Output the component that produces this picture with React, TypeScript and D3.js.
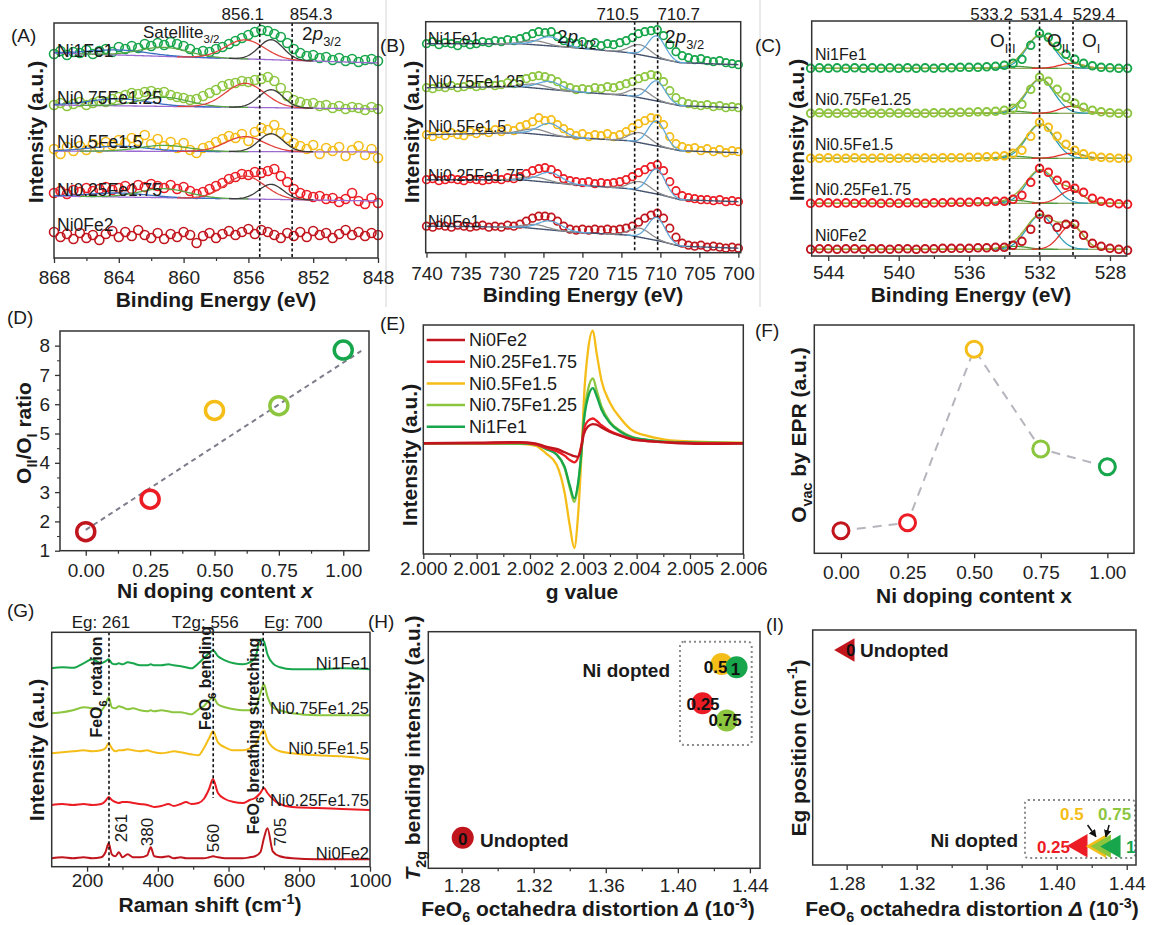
import React, { useEffect, useRef } from "react";
import * as d3 from "d3";

const FONT = "'Liberation Sans', Arial, Helvetica, sans-serif";

// samples, in doping order x = 0 ... 1
const dopingX = [0, 0.25, 0.5, 0.75, 1.0];
const sampleNames = ["Ni0Fe2", "Ni0.25Fe1.75", "Ni0.5Fe1.5", "Ni0.75Fe1.25", "Ni1Fe1"];
const feNames = ["Ni0Fe1", "Ni0.25Fe1.75", "Ni0.5Fe1.5", "Ni0.75Fe1.25", "Ni1Fe1"];
const sampleColors = ["#c1151d", "#ec1c24", "#f5bd18", "#8cc63f", "#17a64b"];

// (A) Ni 2p XPS
const niEnergy = [
  868.0, 867.6, 867.2, 866.8, 866.4, 866.0, 865.6, 865.2, 864.8, 864.4,
  864.0, 863.6, 863.2, 862.8, 862.4, 862.0, 861.6, 861.2, 860.8, 860.4,
  860.0, 859.6, 859.2, 858.8, 858.4, 858.0, 857.6, 857.2, 856.8, 856.4,
  856.0, 855.6, 855.2, 854.8, 854.4, 854.0, 853.6, 853.2, 852.8, 852.4,
  852.0, 851.6, 851.2, 850.8, 850.4, 850.0, 849.6, 849.2, 848.8, 848.4, 848.0,
];
const niOffset = [23, 58, 106, 150, 197];
const niCounts = [
  [3, -2, 1, -4, 2, -3, 0, -5, 1, 4, -2, 3, -1, 5, 0, -3, 2, -4, 1, -2, 3, 0, -8, -1, 2, -3, 1, 4, 0, 3, 6, 1, 5, 3, 0, -3, 2, -1, 3, -2, 4, 0, 2, -3, 1, 5, 0, 3, -1, 2, 0],
  [7, 9, 6, 10, 8, 12, 9, 11, 13, 10, 12, 14, 11, 15, 13, 16, 14, 12, 15, 11, 13, 9, 6, 8, 11, 14, 17, 21, 23, 26, 25, 28, 27, 29, 31, 24, 18, 11, 7, 5, 3, 4, 1, 2, -2, 1, 7, -1, -4, 2, -3],
  [3, -2, 5, 1, 6, 2, 8, 4, 10, 7, 12, 9, 14, 11, 17, 8, 13, 6, 10, 4, 9, 2, -1, 4, 6, 10, 13, 16, 14, 18, 11, 20, 24, 22, 27, 19, 14, 9, 6, 3, 7, -2, 4, 1, 5, -4, 2, 6, -3, 3, -6],
  [3, 5, 2, 4, 6, 3, 5, 7, 6, 9, 11, 13, 15, 14, 16, 17, 15, 16, 13, 11, 10, 8, 9, 12, 15, 18, 22, 24, 25, 27, 26, 28, 29, 31, 27, 20, 12, 8, 6, 4, 5, 2, 3, 0, 2, -1, 1, 0, -2, 1, -1],
  [7, 10, 6, 9, 8, 11, 7, 10, 12, 9, 14, 12, 15, 13, 17, 15, 18, 16, 19, 17, 15, 12, 8, 10, 9, 12, 14, 17, 20, 23, 26, 29, 31, 30, 27, 24, 18, 12, 8, 5, 6, 3, 4, 1, 3, 0, 2, -1, 1, 2, 0],
];
const niBaseLeft = [0, 4, 1, 3, 8];
const niBaseRight = [0, -1, 0, -1, -2];
const niPeakCenter = [864.0, 861.2, 856.2, 854.6];
const niPeakWidth = [1.8, 1.5, 1.2, 0.75];
const niPeakHeight = [null, [4, 9, 23, 15], [5, 6, 15, 18], [7, 9, 24, 18], [5, 9, 19, 20]];
const niMarks = [855.3, 853.3];
const niMarkLabels = ["856.1", "854.3"];
const niTicks = [868, 864, 860, 856, 852, 848];
const niMinor = [866, 862, 858, 854, 850];

// (B) Fe 2p XPS
const feEnergy = [
  740.0, 739.2, 738.4, 737.6, 736.8, 736.0, 735.2, 734.4, 733.6, 732.8,
  732.0, 731.2, 730.4, 729.6, 728.8, 728.0, 727.2, 726.4, 725.6, 724.8,
  724.0, 723.2, 722.4, 721.6, 720.8, 720.0, 719.2, 718.4, 717.6, 716.8,
  716.0, 715.2, 714.4, 713.6, 712.8, 712.0, 711.2, 710.4, 709.6, 708.8,
  708.0, 707.2, 706.4, 705.6, 704.8, 704.0, 703.2, 702.4, 701.6, 700.8, 700.0,
];
const feOffset = [4.5, 51, 100, 145, 188];
const feCounts = [
  [22, 21, 23, 22, 21, 23, 22, 21, 22, 23, 21, 22, 21, 23, 22, 24, 27, 30, 32, 32, 31, 27, 22, 19, 18, 19, 18, 19, 18, 19, 18, 19, 20, 22, 26, 30, 33, 35, 30, 20, 11, 5, 3, 2, 3, 1, 2, 1, 0, 1, 0],
  [22, 23, 21, 22, 23, 22, 21, 23, 22, 21, 22, 23, 22, 24, 23, 25, 28, 31, 33, 34, 32, 28, 23, 21, 20, 19, 20, 18, 19, 18, 19, 20, 22, 25, 29, 32, 35, 37, 31, 20, 11, 6, 4, 3, 2, 2, 1, 2, 0, 1, 0],
  [18, 16, 19, 17, 20, 18, 17, 21, 19, 22, 20, 23, 21, 24, 22, 26, 28, 31, 35, 32, 33, 28, 24, 20, 17, 19, 16, 18, 17, 19, 16, 18, 21, 25, 29, 32, 35, 34, 28, 16, 9, 6, 4, 5, 2, 4, 1, 3, 0, 2, 1],
  [20, 19, 21, 20, 22, 20, 21, 23, 21, 22, 24, 22, 23, 25, 24, 27, 29, 31, 32, 31, 29, 26, 22, 20, 18, 19, 18, 20, 19, 21, 20, 22, 24, 26, 29, 31, 33, 32, 26, 17, 10, 6, 4, 3, 2, 3, 1, 2, 0, 1, 0],
  [21, 23, 20, 22, 21, 19, 22, 20, 21, 23, 22, 24, 23, 25, 24, 26, 28, 31, 33, 32, 33, 28, 24, 22, 21, 23, 20, 22, 19, 21, 20, 22, 24, 27, 31, 33, 34, 35, 29, 20, 13, 9, 7, 5, 6, 4, 3, 4, 2, 1, 0],
];
const feBaseKnots = [740, 728, 721, 714, 710, 707.5, 700];
const feBaseLevels = [
  [22, 21, 16, 13, 7, 2, 0],
  [22, 22, 17, 13, 7, 2, 0],
  [18, 20, 15, 12, 6, 2, 0],
  [20, 21, 16, 12, 6, 2, 0],
  [21, 21, 17, 12, 6, 2, 0],
];
const fePeakCenter = [726.0, 724.2, 712.6, 710.5];
const fePeakWidth = [1.5, 1.5, 1.3, 1.1];
const fePeakHeight = [
  [4, 9, 9, 23],
  [4, 10, 9, 25],
  [5, 12, 10, 25],
  [4, 8, 9, 20],
  [4, 9, 10, 22],
];
const feMarks = [713.3, 710.35];
const feMarkLabels = ["710.5", "710.7"];
const feTicks = [740, 735, 730, 725, 720, 715, 710, 705, 700];

// (C) O 1s XPS
const oEnergy = [
  545, 544.5, 544, 543.5, 543, 542.5, 542, 541.5, 541, 540.5, 540, 539.5, 539,
  538.5, 538, 537.5, 537, 536.5, 536, 535.5, 535, 534.5, 534, 533.5, 533, 532.5,
  532, 531.5, 531, 530.5, 530, 529.5, 529, 528.5, 528, 527.5, 527,
];
const oOffset = [6.7, 52.7, 97.7, 142.7, 187.7];
const oCounts = [
  [0, 0.5, 0.5, 0, 0.5, 0.5, 0, 0.5, 0.5, 0, 0.5, 0.5, 0, 0.5, 0.5, 1, 1, 1, 1, 1.5, 1.5, 2, 2, 4, 8, 20, 35, 30, 22, 25, 25, 14, 6, 3, 1, 0, -1],
  [0, 0.5, 0.5, 0, 0.5, 0, 0.5, 0.5, 0, 0.5, 0, 0.5, 0.5, 0, 0.5, 0.5, 1, 1, 1, 1.5, 1.5, 2, 2, 4, 8, 21, 35, 31, 23, 18, 15, 11, 5, 2, 0.5, -0.5, -1],
  [0, 0, 0.5, 0, 0, 0.5, 0, 0, 0.5, 0, 0, 0.5, 0, 0.5, 0, 0.5, 0.5, 0.5, 1, 1, 1.5, 2, 2.5, 5, 8, 22, 36, 31, 22, 14, 8, 4.5, 2, 1, 0.5, 0, 0],
  [0, 0.5, 0, 0, 0.5, 0, 0.5, 0, 0, 0.5, 0, 0.5, 0, 0, 0.5, 0.5, 0.5, 1, 1, 1.5, 1.5, 2, 3, 5, 9, 24, 36, 32, 24, 16, 10, 6, 3, 1.5, 0.5, 0, 0],
  [0, 0.5, 0, 0.5, 0, 0.5, 0, 0.5, 0, 0.5, 0, 0.5, 0, 0.5, 0, 0.5, 0.5, 1, 1, 1, 1.5, 2, 3, 5, 9, 23, 35, 31, 22, 14, 9, 5, 2.5, 1, 0.5, 0, 0],
];
const oPeakCenter = [533.4, 531.95, 530.2];
const oPeakWidth = [0.7, 0.78, 0.65];
const oPeakHeight = [
  [3, 34, 24],
  [3, 33, 13],
  [2, 34, 5],
  [2, 34, 7],
  [2, 33, 5],
];
const oMarks = [533.7, 532.0, 530.1];
const oMarkLabels = ["533.2", "531.4", "529.4"];
const oTicks = [544, 540, 536, 532, 528];
const oMinor = [542, 538, 534, 530];

// (D) OII/OI ratio
const ratioOII = [1.65, 2.76, 5.79, 5.95, 7.85];
const ratioFit = [1.71, 5.71]; // intercept, slope
const ratioFitSpan = [0, 1.07];

// (E) EPR
const gValue = [
  2.0, 2.001, 2.0018, 2.0021, 2.0023, 2.0025, 2.00265, 2.00275, 2.00283, 2.0029,
  2.00297, 2.00301, 2.00309, 2.00318, 2.00325, 2.00334, 2.0035, 2.0037, 2.0039,
  2.0042, 2.0045, 2.0048, 2.0054, 2.006,
];
const eprSignal = [
  [0, 0.005, 0.01, 0, -0.03, -0.05, -0.08, -0.1, -0.115, -0.12, -0.02, 0.08, 0.15, 0.17, 0.165, 0.14, 0.1, 0.065, 0.035, 0.02, 0.01, 0, -0.005, 0],
  [0, 0, 0.005, -0.01, -0.04, -0.07, -0.11, -0.15, -0.17, -0.13, 0.0, 0.12, 0.2, 0.22, 0.2, 0.16, 0.11, 0.07, 0.04, 0.02, 0.01, 0.005, 0, 0],
  [0, 0, -0.005, -0.02, -0.09, -0.19, -0.44, -0.74, -0.93, -0.65, -0.06, 0.38, 0.83, 1.0, 0.8, 0.56, 0.36, 0.22, 0.12, 0.065, 0.035, 0.02, 0.01, 0.005],
  [0, 0, 0, -0.01, -0.05, -0.1, -0.22, -0.4, -0.52, -0.38, -0.05, 0.22, 0.48, 0.577, 0.47, 0.33, 0.19, 0.11, 0.06, 0.03, 0.015, 0.01, 0, 0],
  [0, 0, 0, -0.01, -0.05, -0.1, -0.21, -0.38, -0.49, -0.36, -0.05, 0.19, 0.41, 0.49, 0.42, 0.3, 0.18, 0.1, 0.055, 0.03, 0.015, 0.01, 0.005, 0],
];
const gTicks = [2.0, 2.001, 2.002, 2.003, 2.004, 2.005, 2.006];
const gMinor = [2.0005, 2.0015, 2.0025, 2.0035, 2.0045, 2.0055];

// (F) Ovac by EPR
const ovacEpr = [0.099, 0.134, 0.894, 0.457, 0.379];
const dopingTicks = [0, 0.25, 0.5, 0.75, 1.0];

// (G) Raman
const ramanShift = [
  100, 130, 160, 190, 215, 240, 252, 261, 270, 280, 290, 300, 315, 330, 350, 370,
  380, 390, 410, 430, 445, 465, 480, 495, 515, 530, 545, 556, 570, 590, 615, 640,
  660, 675, 690, 700, 710, 725, 745, 780, 850, 920, 1000,
];
const ramanOffset = [8.4, 61.7, 113.4, 153.4, 198.4];
const ramanSignal = [
  [0, 1, 0, 1, 0, 1, 6, 15, 4, 2, 6, 1, 4, 1, 1, 3, 11, 2, 1, 2, 0, 1, 0, 0, 0, 0, 1, 2, 1, 0, 0, 0, 1, 2, 6, 20, 30, 7, 2, 0, -1, -1, -1],
  [0, 1, 0, 1, 0, 1, 4, 8, 5, 3, 2, 3, 3, 2, 1, 0, -1, -2, -1, 1, -1, 1, 3, 1, 2, 6, 16, 26, 12, 6, 3, 2, 5, 7, 12, 17, 12, 6, 1, -2, -3, -4, -5],
  [0, 1, 2, 3, 2, 3, 5, 10, 5, 2, 3, 3, 4, 3, 2, 3, 2, 1, 0, 1, 2, 1, 0, -1, -2, 5, 15, 22, 11, 6, 3, 3, 5, 8, 19, 23, 13, 6, 2, 0, -2, -3, -6],
  [0, 1, 3, 6, 5, 3, 9, 16, 6, 5, 7, 6, 4, 5, 3, 2, 3, 2, 3, 2, 1, 1, 0, -1, 4, 7, 13, 16, 9, 6, 4, 3, 3, 5, 20, 29, 17, 6, 3, 0, -2, -2, -2],
  [0, 1, 0.5, 5, 9, 5, 7, 9, 5, 4, 5, 4, 6, 5, 3, 3, 4, 3, 3, 4, 3, 2, 1, 0, 5, 10, 15, 18, 12, 8, 5, 4, 6, 10, 29, 27, 14, 5, 1, -1, -1, 0, -1],
];
const ramanModes = [262, 556.7, 698];
const ramanModeLabels = ["Eg: 261", "T2g: 556", "Eg: 700"];
const ramanModeStop = [0, 68.7, 76.7];
const ramanPeakNums = [261, 380, 560, 705];
const ramanTicks = [200, 400, 600, 800, 1000];
const ramanMinor = [300, 500, 700, 900];

// (H) and (I) vs FeO6 distortion
const distortion = [1.2806, 1.4137, 1.4243, 1.4271, 1.4326];
const t2gIntensity = [0.129, 0.698, 0.864, 0.625, 0.85];
const egPosition = [0.915, 0.082, 0.08, 0.08, 0.079];
const pointLabels = ["0", "0.25", "0.5", "0.75", "1"];
const distTicks = [1.28, 1.32, 1.36, 1.4, 1.44];
const distMinor = [1.3, 1.34, 1.38, 1.42];

const gauss = (e, c, h, w) => h * Math.exp(-((e - c) ** 2) / (2 * w * w));

function rich(t, parts, size) {
  let shift = 0;
  parts.forEach((p) => {
    const [s, k] = typeof p === "string" ? [p, ""] : p;
    const ts = t.append("tspan").text(s);
    let target = 0;
    if (k === "sub") {
      target = size * 0.3;
      ts.attr("font-size", size * 0.68);
    }
    if (k === "sup") {
      target = -size * 0.4;
      ts.attr("font-size", size * 0.68);
    }
    if (k === "i") ts.attr("font-style", "italic");
    if (target !== shift) {
      ts.attr("dy", target - shift);
      shift = target;
    }
  });
}

function txt(g, x, y, parts, size, o: any = {}) {
  const t = g
    .append("text")
    .attr("transform", `translate(${x},${y})` + (o.rotate ? ` rotate(${o.rotate})` : ""))
    .attr("font-family", FONT)
    .attr("font-size", size)
    .attr("text-anchor", o.anchor || "start")
    .attr("font-weight", o.weight || "normal")
    .attr("fill", o.fill || "#1a1a1a");
  rich(t, typeof parts === "string" ? [parts] : parts, size);
  return t;
}

const yTitle = (g, cx, cy, parts) =>
  txt(g, cx + 7.5, cy, parts, 21, { anchor: "middle", weight: "bold", rotate: -90 });
const xTitle = (g, cx, by, parts) => txt(g, cx, by, parts, 21, { anchor: "middle", weight: "bold" });

function frame(g, x, y) {
  const [x0, x1] = x.range();
  const [yb, yt] = y.range();
  g.append("rect")
    .attr("x", x0)
    .attr("y", yt)
    .attr("width", x1 - x0)
    .attr("height", yb - yt)
    .attr("fill", "none")
    .attr("stroke", "#333")
    .attr("stroke-width", 1.5);
}

function xAxis(g, x, y, ticks, fmt, pad, minor: number[] = []) {
  const yb = y.range()[0];
  const a = g
    .append("g")
    .attr("transform", `translate(0,${yb})`)
    .call(d3.axisBottom(x).tickValues(ticks).tickFormat(fmt).tickSize(5).tickSizeOuter(0).tickPadding(pad));
  a.select(".domain").remove();
  a.selectAll("line").attr("stroke", "#333").attr("stroke-width", 1.3);
  a.selectAll("text").attr("font-size", 19).attr("font-family", FONT).attr("fill", "#222");
  if (minor.length) {
    const m = g
      .append("g")
      .attr("transform", `translate(0,${yb})`)
      .call(d3.axisBottom(x).tickValues(minor).tickFormat(() => "").tickSize(3).tickSizeOuter(0));
    m.select(".domain").remove();
    m.selectAll("line").attr("stroke", "#333").attr("stroke-width", 1.2);
  }
}

function vDashed(g, x, y, v, from?, to?) {
  const [yb, yt] = y.range();
  g.append("line")
    .attr("x1", x(v))
    .attr("x2", x(v))
    .attr("y1", from ?? yt)
    .attr("y2", to ?? yb)
    .attr("stroke", "#111")
    .attr("stroke-width", 1.6)
    .attr("stroke-dasharray", "3,2.5");
}

function circles(g, xs, ys, x, y, r, color, sw) {
  g.append("g")
    .selectAll("circle")
    .data(ys)
    .join("circle")
    .attr("cx", (d, j) => x(xs[j]))
    .attr("cy", (d) => y(d))
    .attr("r", r)
    .attr("fill", "none")
    .attr("stroke", color)
    .attr("stroke-width", sw);
}

function path(g, pts, x, y, color, w, curve = d3.curveLinear) {
  const ln = d3
    .line()
    .x((d) => x(d[0]))
    .y((d) => y(d[1]))
    .curve(curve);
  return g
    .append("path")
    .attr("d", ln(pts))
    .attr("fill", "none")
    .attr("stroke", color)
    .attr("stroke-width", w);
}

function panelA(svg) {
  const g = svg.append("g");
  const x = d3.scaleLinear().domain([868, 848]).range([54, 378]);
  const y = d3.scaleLinear().domain([0, 235]).range([258, 23]);
  const fine = d3.range(868, 847.95, -0.1);
  const compColors = ["#3b70c2", "#5aa845", "#e2423d", "#3c3c3c"];

  niCounts.forEach((vals, i) => {
    circles(g, niEnergy, vals.map((v) => niOffset[i] + v), x, y, 4.5, sampleColors[i], 1.6);
  });
  niCounts.forEach((vals, i) => {
    const hs = niPeakHeight[i];
    if (!hs) return;
    const base = (e) => niOffset[i] + niBaseLeft[i] + ((niBaseRight[i] - niBaseLeft[i]) * (868 - e)) / 20;
    path(g, fine.map((e) => [e, base(e)]), x, y, "#9a6ad2", 1.3);
    niPeakCenter.forEach((c, k) => {
      const w = niPeakWidth[k];
      const pts = fine.filter((e) => Math.abs(e - c) < 3.5 * w).map((e) => [e, base(e) + gauss(e, c, hs[k], w)]);
      path(g, pts, x, y, compColors[k], 1.3);
    });
  });
  niMarks.forEach((m) => vDashed(g, x, y, m));
  niMarkLabels.forEach((s, k) => txt(g, x(niMarks[k]) + [-17, 19][k], 20, s, 17, { anchor: "middle" }));
  txt(g, 143, 38, ["Satellite", ["3/2", "sub"]], 17);
  txt(g, 302, 40, ["2", ["p", "i"], ["3/2", "sub"]], 19);
  sampleNames.forEach((s, i) => txt(g, 57, y(niOffset[i]) - 4, s, 17.5));
  frame(g, x, y);
  xAxis(g, x, y, niTicks, d3.format("d"), 8, niMinor);
  yTitle(g, 35, 132, "Intensity (a.u.)");
  xTitle(g, 216, 307, "Binding Energy (eV)");
  txt(g, 11, 42, "(A)", 19);
}

function panelB(svg) {
  const g = svg.append("g");
  const x = d3.scaleLinear().domain([740.1, 699.7]).range([425.7, 740.7]);
  const y = d3.scaleLinear().domain([0, 231]).range([252.7, 21.7]);
  const fine = d3.range(740, 699.95, -0.1);

  feCounts.forEach((vals, i) => {
    circles(g, feEnergy, vals.map((v) => feOffset[i] + v), x, y, 3.8, sampleColors[i], 1.7);
  });
  feCounts.forEach((vals, i) => {
    const bl = d3.scaleLinear().domain(feBaseKnots).range(feBaseLevels[i]);
    const base = (e) => feOffset[i] + bl(e);
    path(g, fine.map((e) => [e, base(e)]), x, y, "#46536f", 1.4);
    fePeakCenter.forEach((c, k) => {
      const w = fePeakWidth[k];
      const pts = fine.filter((e) => Math.abs(e - c) < 3.5 * w).map((e) => [e, base(e) + gauss(e, c, fePeakHeight[i][k], w)]);
      path(g, pts, x, y, k % 2 === 0 ? "#8e8e8e" : "#62a7d8", 1.3);
    });
  });
  feMarks.forEach((m) => vDashed(g, x, y, m));
  feMarkLabels.forEach((s, k) => txt(g, x(feMarks[k]) + [-17, 21][k], 20, s, 17, { anchor: "middle" }));
  txt(g, 557, 43, ["2", ["p", "i"], ["1/2", "sub"]], 19);
  txt(g, 665, 43, ["2", ["p", "i"], ["3/2", "sub"]], 19);
  feNames.forEach((s, i) => txt(g, 428, y(feOffset[i]) - 21, s, 16));
  frame(g, x, y);
  xAxis(g, x, y, feTicks, d3.format("d"), 9);
  yTitle(g, 411.7, 132, "Intensity (a.u.)");
  xTitle(g, 583, 302, "Binding Energy (eV)");
  txt(g, 380, 52, "(B)", 19);
}

function panelC(svg) {
  const g = svg.append("g");
  const x = d3.scaleLinear().domain([544.94, 527.05]).range([811.7, 1126.7]);
  const y = d3.scaleLinear().domain([0, 235]).range([256, 21]);
  const fine = d3.range(545, 526.99, -0.05);
  const compColors = ["#4f9a3a", "#2c9db8", "#e2322e"];

  oCounts.forEach((vals, i) => {
    const off = oOffset[i];
    path(g, fine.map((e) => [e, off]), x, y, "#6a8f2e", 1.1);
    oPeakCenter.forEach((c, k) => {
      const w = oPeakWidth[k];
      const pts = fine.filter((e) => Math.abs(e - c) < 3.5 * w).map((e) => [e, off + gauss(e, c, oPeakHeight[i][k], w)]);
      path(g, pts, x, y, compColors[k], 1.3);
    });
    const env = fine.map((e) => [e, off + d3.sum(oPeakCenter, (c, k) => gauss(e, c, oPeakHeight[i][k], oPeakWidth[k]))]);
    path(g, env, x, y, "#9bb03a", 1.4);
    circles(g, oEnergy, vals.map((v) => off + v), x, y, 3.8, sampleColors[i], 1.9);
  });
  oMarks.forEach((m) => vDashed(g, x, y, m));
  oMarkLabels.forEach((s, k) => txt(g, x(oMarks[k]) + [-18, 2, 21][k], 20, s, 17, { anchor: "middle" }));
  txt(g, 990, 47, ["O", ["III", "sub"]], 19);
  txt(g, 1047, 47, ["O", ["II", "sub"]], 19);
  txt(g, 1082, 47, ["O", ["I", "sub"]], 19);
  sampleNames.forEach((s, i) => txt(g, 815, y(oOffset[i]) - 8, s, 16));
  frame(g, x, y);
  xAxis(g, x, y, oTicks, d3.format("d"), 5, oMinor);
  yTitle(g, 796.7, 130, "Intensity (a.u.)");
  xTitle(g, 971, 302, "Binding Energy (eV)");
  txt(g, 755, 52, "(C)", 19);
}

function panelD(svg) {
  const g = svg.append("g");
  const x = d3.scaleLinear().domain([-0.1, 1.1]).range([60, 369]);
  const y = d3.scaleLinear().domain([1, 8.5]).range([550.7, 331]);
  path(
    g,
    ratioFitSpan.map((v) => [v, ratioFit[0] + ratioFit[1] * v]),
    x,
    y,
    "#7d7d8c",
    2
  ).attr("stroke-dasharray", "5,4");
  g.append("g")
    .selectAll("circle")
    .data(ratioOII)
    .join("circle")
    .attr("cx", (d, i) => x(dopingX[i]))
    .attr("cy", (d) => y(d))
    .attr("r", 9)
    .attr("fill", "none")
    .attr("stroke", (d, i) => sampleColors[i])
    .attr("stroke-width", 3.5);
  frame(g, x, y);
  xAxis(g, x, y, dopingTicks, d3.format(".2f"), 8, [0.125, 0.375, 0.625, 0.875]);
  const ay = g
    .append("g")
    .attr("transform", `translate(${x.range()[0]},0)`)
    .call(d3.axisLeft(y).tickValues([1, 2, 3, 4, 5, 6, 7, 8]).tickSize(5).tickSizeOuter(0).tickPadding(5));
  ay.select(".domain").remove();
  ay.selectAll("line").attr("stroke", "#333").attr("stroke-width", 1.3);
  ay.selectAll("text").attr("font-size", 19).attr("font-family", FONT).attr("fill", "#222");
  const my = g
    .append("g")
    .attr("transform", `translate(${x.range()[0]},0)`)
    .call(d3.axisLeft(y).tickValues([1.5, 2.5, 3.5, 4.5, 5.5, 6.5, 7.5]).tickFormat(() => "").tickSize(3).tickSizeOuter(0));
  my.select(".domain").remove();
  my.selectAll("line").attr("stroke", "#333");
  yTitle(g, 23, 433, ["O", ["II", "sub"], "/O", ["I", "sub"], " ratio"]);
  xTitle(g, 215, 598, ["Ni doping content ", ["x", "i"]]);
  txt(g, 7, 324, "(D)", 19);
}

function panelE(svg) {
  const g = svg.append("g");
  const x = d3.scaleLinear().domain([2.0, 2.006]).range([423.3, 743.3]);
  const y = d3.scaleLinear().domain([-0.983, 1.05]).range([554, 325]);
  [2, 3, 4, 1, 0].forEach((i) => {
    path(g, gValue.map((v, j) => [v, eprSignal[i][j]]), x, y, sampleColors[i], 2.3, d3.curveMonotoneX);
  });
  sampleNames.forEach((s, i) => {
    const ly = 340 + i * 21.7;
    g.append("line")
      .attr("x1", 426.7)
      .attr("x2", 465)
      .attr("y1", ly)
      .attr("y2", ly)
      .attr("stroke", sampleColors[i])
      .attr("stroke-width", 2.5);
    txt(g, 469, ly + 6.3, s, 18);
  });
  frame(g, x, y);
  xAxis(g, x, y, gTicks, d3.format(".3f"), 3, gMinor);
  yTitle(g, 409, 455, "Intensity (a.u.)");
  xTitle(g, 582, 599, "g value");
  txt(g, 380, 330, "(E)", 19);
}

function panelF(svg) {
  const g = svg.append("g");
  const x = d3.scaleLinear().domain([-0.1, 1.1]).range([814.3, 1134]);
  const y = d3.scaleLinear().domain([0, 1]).range([553.3, 325]);
  path(g, ovacEpr.map((v, i) => [dopingX[i], v]), x, y, "#b5b5bd", 2).attr("stroke-dasharray", "9,7");
  g.append("g")
    .selectAll("circle")
    .data(ovacEpr)
    .join("circle")
    .attr("cx", (d, i) => x(dopingX[i]))
    .attr("cy", (d) => y(d))
    .attr("r", 8)
    .attr("fill", "#fff")
    .attr("stroke", (d, i) => sampleColors[i])
    .attr("stroke-width", 3);
  frame(g, x, y);
  xAxis(g, x, y, dopingTicks, d3.format(".2f"), 7);
  yTitle(g, 798, 435, ["O", ["vac", "sub"], " by EPR (a.u.)"]);
  xTitle(g, 974, 603, "Ni doping content x");
  txt(g, 755, 337, "(F)", 19);
}

function panelG(svg) {
  const g = svg.append("g");
  const x = d3.scaleLinear().domain([100, 1000]).range([51.7, 370]);
  const y = d3.scaleLinear().domain([0, 234.4]).range([866.7, 632.3]);
  ramanSignal.forEach((vals, i) => {
    path(g, ramanShift.map((v, j) => [v, ramanOffset[i] + vals[j]]), x, y, sampleColors[i], 2, d3.curveMonotoneX);
  });
  ramanModes.forEach((m, k) => {
    vDashed(g, x, y, m, y.range()[1], y(ramanModeStop[k]));
    txt(g, x(m) + [-8, -8, 30][k], 628, ramanModeLabels[k], 17, { anchor: "middle" });
  });
  const rot = { anchor: "middle", weight: "bold", rotate: -90 };
  txt(g, x(ramanModes[0]) - 6.5, 687, ["FeO", ["6", "sub"], " rotation"], 16, rot);
  txt(g, x(ramanModes[1]) - 2.5, 678, ["FeO", ["6", "sub"], " bending"], 16, rot);
  txt(g, x(ramanModes[2]) - 4.5, 736, ["FeO", ["6", "sub"], " breathing stretching"], 16, rot);
  const numDx = [18.5, 2, 4.5, 20];
  const numY = [828, 832, 838, 832];
  ramanPeakNums.forEach((p, k) =>
    txt(g, x(p) + numDx[k], numY[k], String(p), 17, { anchor: "middle", rotate: -90 })
  );
  sampleNames.forEach((s, i) => txt(g, 369, y(ramanOffset[i]) + 1, s, 16.5, { anchor: "end" }));
  frame(g, x, y);
  xAxis(g, x, y, ramanTicks, d3.format("d"), 2, ramanMinor);
  yTitle(g, 36.7, 750, "Intensity (a.u.)");
  xTitle(g, 210, 912, ["Raman shift (cm", ["-1", "sup"], ")"]);
  txt(g, 7, 617, "(G)", 19);
}

function panelH(svg) {
  const g = svg.append("g");
  const x = d3.scaleLinear().domain([1.2615, 1.4456]).range([428.3, 760]);
  const y = d3.scaleLinear().domain([0, 1]).range([868.3, 631.7]);
  g.append("rect")
    .attr("x", 680)
    .attr("y", 641.7)
    .attr("width", 71.7)
    .attr("height", 103.3)
    .attr("rx", 4)
    .attr("fill", "none")
    .attr("stroke", "#8a8a8a")
    .attr("stroke-width", 2)
    .attr("stroke-dasharray", "2,3");
  g.append("g")
    .selectAll("circle")
    .data(t2gIntensity)
    .join("circle")
    .attr("cx", (d, i) => x(distortion[i]))
    .attr("cy", (d) => y(d))
    .attr("r", 11)
    .attr("fill", (d, i) => sampleColors[i]);
  const ldx = [0, 0.5, -6, -1.5, -1];
  const ldy = [7, 7, 9.5, 6, 8];
  pointLabels.forEach((s, i) =>
    txt(g, x(distortion[i]) + ldx[i], y(t2gIntensity[i]) + ldy[i], s, 17, { anchor: "middle", weight: "bold", fill: "#111" })
  );
  txt(g, 670, 677, "Ni dopted", 19, { anchor: "end", weight: "bold" });
  txt(g, 480, 847, "Undopted", 19, { weight: "bold" });
  frame(g, x, y);
  xAxis(g, x, y, distTicks, d3.format(".2f"), 5, distMinor);
  yTitle(g, 412, 748, [["T", "i"], ["2g", "sub"], " bending intensity (a.u.)"]);
  xTitle(g, 588, 916, ["FeO", ["6", "sub"], " octahedra distortion ", ["Δ", "i"], " (10", ["-3", "sup"], ")"]);
  txt(g, 368, 628, "(H)", 19);
}

function panelI(svg) {
  const g = svg.append("g");
  const x = d3.scaleLinear().domain([1.2606, 1.4453]).range([812.7, 1136]);
  const y = d3.scaleLinear().domain([0, 1]).range([865, 630]);
  g.append("rect")
    .attr("x", 1025)
    .attr("y", 800)
    .attr("width", 110)
    .attr("height", 58)
    .attr("rx", 3)
    .attr("fill", "none")
    .attr("stroke", "#8a8a8a")
    .attr("stroke-width", 2)
    .attr("stroke-dasharray", "2,3");
  const tri = d3.symbol().type(d3.symbolTriangle).size(240);
  g.append("g")
    .selectAll("path")
    .data(egPosition)
    .join("path")
    .attr("d", tri())
    .attr("transform", (d, i) => `translate(${x(distortion[i])},${y(d)}) rotate(-90)`)
    .attr("fill", (d, i) => sampleColors[i]);
  txt(g, x(distortion[0]) + 3, y(egPosition[0]) + 6.5, "0", 17, { anchor: "middle", weight: "bold", fill: "#111" });
  txt(g, 860, 657, "Undopted", 19, { weight: "bold" });
  txt(g, 1018, 847, "Ni dopted", 19, { anchor: "end", weight: "bold" });
  txt(g, 1070, 853, pointLabels[1], 17, { anchor: "end", weight: "bold", fill: sampleColors[1] });
  txt(g, 1060, 820, pointLabels[2], 17, { weight: "bold", fill: sampleColors[2] });
  txt(g, 1098, 820, pointLabels[3], 17, { weight: "bold", fill: sampleColors[3] });
  txt(g, 1126, 853, pointLabels[4], 17, { weight: "bold", fill: sampleColors[4] });
  const arrows = [
    [x(distortion[2]) - 11.7, 825, x(distortion[2]) - 3.3, 836.7],
    [x(distortion[3]) + 5, 825, x(distortion[3]) + 1.7, 836.7],
  ];
  arrows.forEach(([x1, y1, x2, y2]) =>
    g.append("line")
      .attr("x1", x1)
      .attr("y1", y1)
      .attr("x2", x2)
      .attr("y2", y2)
      .attr("stroke", "#111")
      .attr("stroke-width", 1.5)
      .attr("marker-end", "url(#arr)")
  );
  frame(g, x, y);
  xAxis(g, x, y, distTicks, d3.format(".2f"), 7, distMinor);
  yTitle(g, 798, 748, ["Eg position (cm", ["-1", "sup"], ")"]);
  xTitle(g, 972, 916, ["FeO", ["6", "sub"], " octahedra distortion ", ["Δ", "i"], " (10", ["-3", "sup"], ")"]);
  txt(g, 766, 631, "(I)", 19);
}

export default function App() {
  const ref = useRef<SVGSVGElement | null>(null);

  useEffect(() => {
    const svg = d3.select(ref.current);
    svg.selectAll("*").remove();
    svg.append("defs")
      .append("marker")
      .attr("id", "arr")
      .attr("viewBox", "0 0 10 10")
      .attr("refX", 9)
      .attr("refY", 5)
      .attr("markerWidth", 5)
      .attr("markerHeight", 5)
      .attr("orient", "auto")
      .append("path")
      .attr("d", "M0,0 L10,5 L0,10 z")
      .attr("fill", "#111");
    svg.append("rect").attr("width", 1155).attr("height", 925).attr("fill", "#fff");
    [386, 760].forEach((sx) =>
      svg.append("line").attr("x1", sx).attr("x2", sx).attr("y1", 0).attr("y2", 307).attr("stroke", "#d4d4d4").attr("stroke-width", 1)
    );
    panelA(svg);
    panelB(svg);
    panelC(svg);
    panelD(svg);
    panelE(svg);
    panelF(svg);
    panelG(svg);
    panelH(svg);
    panelI(svg);
  }, []);

  return (
    <svg
      ref={ref}
      width={1155}
      height={925}
      style={{ position: "absolute", left: 0, top: 0, background: "#fff" }}
    />
  );
}
